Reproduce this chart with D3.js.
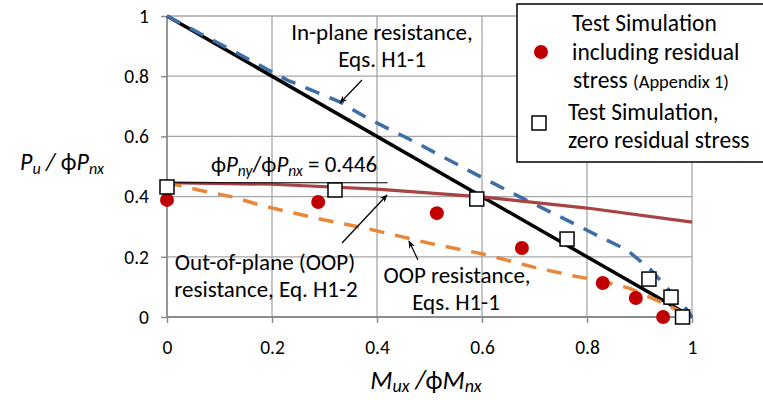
<!DOCTYPE html>
<html>
<head>
<meta charset="utf-8">
<script src="https://cdn.jsdelivr.net/npm/d3@7"></script>
<style>
html,body{margin:0;padding:0;background:#fff;}
svg{display:block;}
text{font-family:Carlito, Lato, "Open Sans", sans-serif;fill:#000;}
</style>
</head>
<body>
<svg id="chart" width="763" height="400"></svg>
<script>
// ---- data ----
const xTicks = [0, 0.2, 0.4, 0.6, 0.8, 1];
const yTicks = [0, 0.2, 0.4, 0.6, 0.8, 1];
const tickLabels = ["0", "0.2", "0.4", "0.6", "0.8", "1"];

// In-plane resistance, Eqs. H1-1 (solid black)
const inPlaneM = [0, 1];
const inPlaneP = [1, 0];

// In-plane simulation curve (blue dashed)
const blueM = [0, 0.13, 0.229, 0.33, 0.381, 0.476, 0.573, 0.672, 0.773, 0.825, 0.876, 0.922, 0.956, 0.989, 1.0];
const blueP = [1, 0.88, 0.787, 0.714, 0.661, 0.578, 0.488, 0.399, 0.312, 0.266, 0.223, 0.156, 0.09, 0.027, 0];

// Out-of-plane resistance, Eq. H1-2 (dark red solid)
const oopH12M = [0, 0.2, 0.4, 0.6, 0.8, 1.0];
const oopH12P = [0.446, 0.441, 0.425, 0.399, 0.362, 0.315];

// OOP resistance, Eqs. H1-1 (orange dashed)
const oopH11M = [0, 0.06, 0.125, 0.183, 0.25, 0.3, 0.35, 0.4, 0.5, 0.6, 0.7, 0.77, 0.82, 0.88, 0.94, 1.0];
const oopH11P = [0.446, 0.422, 0.399, 0.369, 0.342, 0.322, 0.305, 0.286, 0.245, 0.21, 0.165, 0.138, 0.122, 0.096, 0.05, 0];

// phiPny/phiPnx reference line
const refLineM = [0, 0.42];
const refLineP = [0.446, 0.446];

// Test simulation including residual stress (red dots)
const resM = [0, 0.288, 0.514, 0.676, 0.83, 0.893, 0.945];
const resP = [0.389, 0.382, 0.345, 0.229, 0.113, 0.063, 0.0];

// Test simulation, zero residual stress (open squares)
const zeroM = [0, 0.32, 0.59, 0.762, 0.918, 0.96, 0.982];
const zeroP = [0.432, 0.422, 0.392, 0.259, 0.126, 0.066, 0.0];

// ---- drawing ----
const svg = d3.select("#chart");
const x = d3.scaleLinear().domain([0, 1]).range([167, 692]);
const y = d3.scaleLinear().domain([0, 1]).range([317, 16]);
const gridColor = "#a6a6a6";

// gridlines
svg.append("g").selectAll("line").data(yTicks.filter(d => d > 0)).join("line")
  .attr("x1", x(0)).attr("x2", x(1)).attr("y1", d => y(d)).attr("y2", d => y(d))
  .attr("stroke", gridColor).attr("stroke-width", 1.3);
svg.append("g").selectAll("line").data(xTicks.filter(d => d > 0)).join("line")
  .attr("x1", d => x(d)).attr("x2", d => x(d)).attr("y1", y(0)).attr("y2", y(1))
  .attr("stroke", gridColor).attr("stroke-width", 1.3);

// axes
const xAxis = d3.axisBottom(x).tickValues(xTicks).tickFormat((d, i) => tickLabels[i]).tickSize(6).tickPadding(17);
const gx = svg.append("g").attr("transform", `translate(0,${y(0)})`).call(xAxis);
const yAxis = d3.axisLeft(y).tickValues(yTicks).tickFormat((d, i) => tickLabels[i]).tickSize(6).tickPadding(12);
const gy = svg.append("g").attr("transform", `translate(${x(0)},0)`).call(yAxis);
[gx, gy].forEach(g => {
  g.select(".domain").attr("stroke", "#8c8c8c").attr("stroke-width", 1.8);
  g.selectAll(".tick line").attr("stroke", "#8c8c8c").attr("stroke-width", 1.5);
  g.selectAll(".tick text").attr("font-size", 19.5).attr("font-family", "Carlito, Lato, sans-serif").attr("fill", "#000");
});
gx.select(".domain").attr("d", `M${x(0)},0H${x(1)}`);
gy.select(".domain").attr("d", `M0,${y(0)}V${y(1)}`);

const line = d3.line().x(d => x(d[0])).y(d => y(d[1]));
const zip = (a, b) => a.map((v, i) => [v, b[i]]);

svg.append("path").attr("d", line(zip(inPlaneM, inPlaneP)))
  .attr("fill", "none").attr("stroke", "#000").attr("stroke-width", 3.5);
svg.append("path").attr("d", line(zip(blueM, blueP)))
  .attr("fill", "none").attr("stroke", "#3d6ea8").attr("stroke-width", 3.5)
  .attr("stroke-dasharray", "15,11");
svg.append("path").attr("d", line(zip(oopH12M, oopH12P)))
  .attr("fill", "none").attr("stroke", "#a84343").attr("stroke-width", 3.2);
svg.append("path").attr("d", line(zip(oopH11M, oopH11P)))
  .attr("fill", "none").attr("stroke", "#e8873a").attr("stroke-width", 3.5)
  .attr("stroke-dasharray", "15,11");
svg.append("path").attr("d", line(zip(refLineM, refLineP)))
  .attr("fill", "none").attr("stroke", "#000").attr("stroke-width", 1.2);

// markers
svg.append("g").selectAll("circle").data(zip(resM, resP)).join("circle")
  .attr("cx", d => x(d[0])).attr("cy", d => y(d[1])).attr("r", 7)
  .attr("fill", "#c00000");
svg.append("g").selectAll("rect").data(zip(zeroM, zeroP)).join("rect")
  .attr("x", d => x(d[0]) - 7).attr("y", d => y(d[1]) - 7).attr("width", 14).attr("height", 14)
  .attr("fill", "#fff").attr("stroke", "#000").attr("stroke-width", 1.5);

// arrows
const defs = svg.append("defs");
defs.append("marker").attr("id", "arrow").attr("viewBox", "0 0 10 10")
  .attr("refX", 9).attr("refY", 5).attr("markerWidth", 8).attr("markerHeight", 8)
  .attr("orient", "auto").attr("markerUnits", "userSpaceOnUse")
  .append("path").attr("d", "M0,1 L10,5 L0,9 L3,5 Z").attr("fill", "#000");
const arrows = [[362, 80, 340, 103], [342, 243, 387, 195], [418, 260, 409, 241]];
svg.append("g").selectAll("line").data(arrows).join("line")
  .attr("x1", d => d[0]).attr("y1", d => d[1]).attr("x2", d => d[2]).attr("y2", d => d[3])
  .attr("stroke", "#000").attr("stroke-width", 1.2).attr("marker-end", "url(#arrow)");

// annotation text
const ann = svg.append("g").attr("font-size", 23);
const addText = (tx, ty, s, anchor) => ann.append("text").attr("x", tx).attr("y", ty)
  .attr("text-anchor", anchor || "middle").text(s);
addText(382, 40, "In-plane resistance,");
addText(382, 67, "Eqs. H1-1");
addText(265, 270, "Out-of-plane (OOP)");
addText(266, 297, "resistance, Eq. H1-2");
addText(457, 283, "OOP resistance,");
addText(456, 310, "Eqs. H1-1");

// phiPny/phiPnx = 0.446
const r = ann.append("text").attr("x", 294).attr("y", 172).attr("text-anchor", "middle");
r.append("tspan").text("\u03D5");
r.append("tspan").attr("font-style", "italic").text("P");
r.append("tspan").attr("font-style", "italic").attr("font-size", 15.5).attr("dy", 4).text("ny");
r.append("tspan").attr("dy", -4).text("/\u03D5");
r.append("tspan").attr("font-style", "italic").text("P");
r.append("tspan").attr("font-style", "italic").attr("font-size", 15.5).attr("dy", 4).text("nx");
r.append("tspan").attr("dy", -4).text(" = 0.446");

// axis titles
const yt = svg.append("text").attr("x", 20).attr("y", 170).attr("font-size", 24);
yt.append("tspan").attr("font-style", "italic").text("P");
yt.append("tspan").attr("font-style", "italic").attr("font-size", 16).attr("dy", 4).text("u");
yt.append("tspan").attr("dy", -4).attr("font-style", "italic").text(" / ");
yt.append("tspan").text("\u03D5");
yt.append("tspan").attr("font-style", "italic").text("P");
yt.append("tspan").attr("font-style", "italic").attr("font-size", 16).attr("dy", 4).text("nx");

const xt = svg.append("text").attr("x", 426).attr("y", 389).attr("font-size", 26).attr("text-anchor", "middle");
xt.append("tspan").attr("font-style", "italic").text("M");
xt.append("tspan").attr("font-style", "italic").attr("font-size", 18).attr("dy", 3).text("ux");
xt.append("tspan").attr("dy", -3).attr("font-style", "italic").text(" /");
xt.append("tspan").text("\u03D5");
xt.append("tspan").attr("font-style", "italic").text("M");
xt.append("tspan").attr("font-style", "italic").attr("font-size", 18).attr("dy", 3).text("nx");

// legend
const lg = svg.append("g");
lg.append("rect").attr("x", 517).attr("y", 4).attr("width", 260).attr("height", 158)
  .attr("fill", "#fff").attr("stroke", "#000").attr("stroke-width", 1.5);
lg.append("circle").attr("cx", 541).attr("cy", 52).attr("r", 7).attr("fill", "#c00000");
lg.append("rect").attr("x", 532).attr("y", 116).attr("width", 14).attr("height", 14)
  .attr("fill", "#fff").attr("stroke", "#000").attr("stroke-width", 1.5);
const lt = lg.append("g").attr("font-size", 23.5);
lt.append("text").attr("x", 572).attr("y", 31).text("Test Simulation");
lt.append("text").attr("x", 572).attr("y", 60).text("including residual");
const l3 = lt.append("text").attr("x", 573).attr("y", 88);
l3.append("tspan").text("stress  ");
l3.append("tspan").attr("font-size", 18.5).text("(Appendix 1)");
lt.append("text").attr("x", 568).attr("y", 120).text("Test Simulation,");
lt.append("text").attr("x", 568).attr("y", 148).text("zero residual stress");
</script>
</body>
</html>
